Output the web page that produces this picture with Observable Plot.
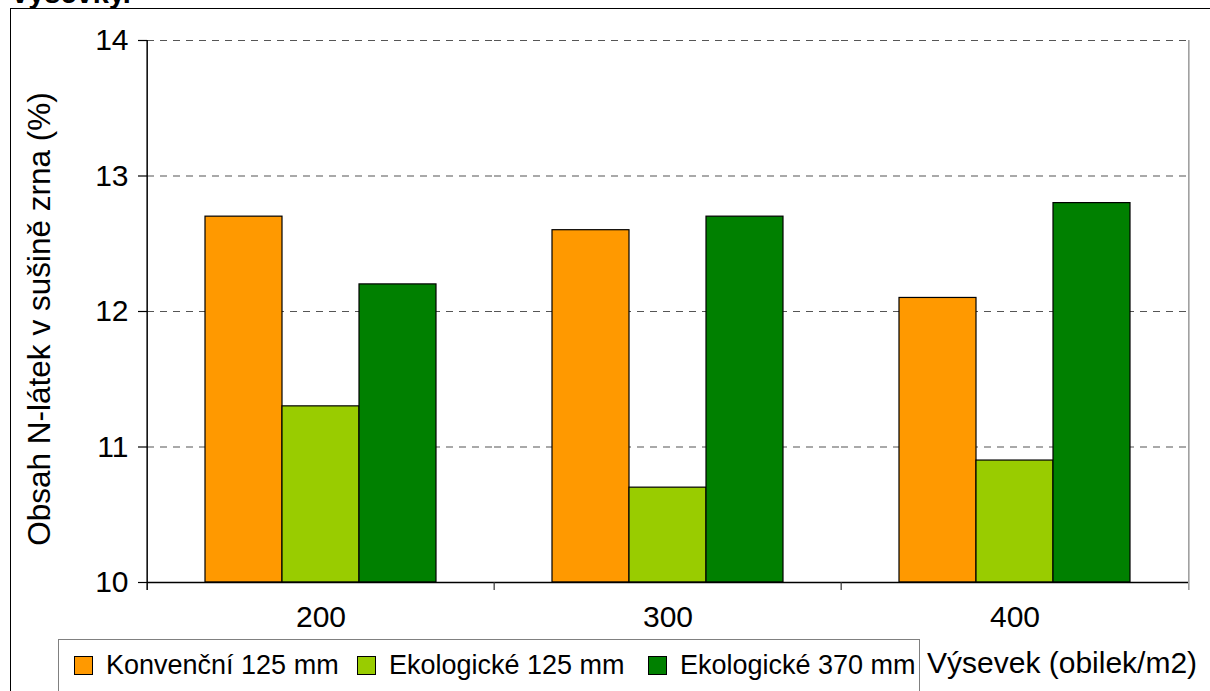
<!DOCTYPE html>
<html>
<head>
<meta charset="utf-8">
<script src="https://cdn.jsdelivr.net/npm/d3@7"></script>
<script src="https://cdn.jsdelivr.net/npm/@observablehq/plot@0.6"></script>
<style>
  body { margin: 0; background: #fff; }
  #wrap { position: relative; width: 1210px; height: 691px; overflow: hidden; background: #fff;
          font-family: "Liberation Sans", Arial, sans-serif; color: #000; }
  #frame { position: absolute; left: 10px; top: 8px; width: 1300px; height: 800px;
           border-left: 1.5px solid #000; border-top: 1.5px solid #000; }
  #head { position: absolute; left: 12px; top: -21px; font-size: 29px; font-weight: bold; line-height: 1; white-space: nowrap; }
  #chart { position: absolute; left: 0; top: 0; }
  #ytitle { position: absolute; left: 40px; top: 319px; transform: translate(-50%, -50%) rotate(-90deg);
            font-size: 31.5px; line-height: 1; white-space: nowrap; }
  #legend { position: absolute; left: 58px; top: 639px; width: 862px; height: 80px; box-sizing: border-box;
            border: 1px solid #808080; background: #fff; }
  .item { position: absolute; top: 14px; height: 22px; display: flex; align-items: center; font-size: 27px; white-space: nowrap; }
  .sw { width: 19px; height: 19px; box-sizing: border-box; border: 1px solid #000; margin-right: 13px; }
  #xtitle { position: absolute; left: 927px; top: 648px; font-size: 30px; line-height: 1; white-space: nowrap; }
</style>
</head>
<body>
<div id="wrap">
  <div id="frame"></div>
  <div id="head">výsevky.</div>
  <div id="chart"></div>
  <div id="ytitle"></div>
  <div id="legend"></div>
  <div id="xtitle"></div>
</div>
<script>
// Seeding rates (grains per m²) and row-spacing variants
const groups = ["200", "300", "400"];
const series = ["Konvenční 125 mm", "Ekologické 125 mm", "Ekologické 370 mm"];
// Crude protein content in grain dry matter (%)
const konvencni125 = [12.7, 12.6, 12.1];
const ekologicke125 = [11.3, 10.7, 10.9];
const ekologicke370 = [12.2, 12.7, 12.8];
const colors = ["#FF9900", "#99CC00", "#008000"];
const yTicks = [10, 11, 12, 13, 14];
const yTitle = "Obsah N-látek v sušině zrna (%)";
const xTitle = "Výsevek (obilek/m2)";

const seriesValues = [konvencni125, ekologicke125, ekologicke370];
const rows = groups.flatMap((g, gi) =>
  series.map((s, si) => ({group: g, series: s, value: seriesValues[si][gi]}))
);

const W = 1210, H = 691, ML = 146, MR = 21, MT = 40, MB = 109;
const facetStep = (W - ML - MR) / groups.length;

const chart = Plot.plot({
  width: W,
  height: H,
  marginLeft: ML,
  marginRight: MR,
  marginTop: MT,
  marginBottom: MB,
  style: {fontFamily: "'Liberation Sans', Arial, sans-serif", background: "transparent", color: "#000"},
  fx: {domain: groups, paddingInner: 0, paddingOuter: 0, label: null},
  x: {domain: series, paddingInner: 0, paddingOuter: 0.75, axis: null},
  y: {domain: [yTicks[0], yTicks[yTicks.length - 1]], axis: null},
  color: {domain: series, range: colors},
  marks: [
    // dashed horizontal gridlines
    Plot.gridY(yTicks.slice(1), {stroke: "#555", strokeOpacity: 1, strokeWidth: 1.2, strokeDasharray: "7,6"}),
    // bars
    Plot.barY(rows, {fx: "group", x: "series", y1: yTicks[0], y2: "value", fill: "series",
      stroke: "#000", strokeWidth: 1.2, inset: 0}),
    // baseline
    Plot.ruleY([yTicks[0]], {stroke: "#000", strokeWidth: 1.5}),
    // group separator ticks below the baseline
    Plot.ruleX(groups.slice(1), {fx: d => d, x: null, y1: yTicks[0], y2: yTicks[0],
      insetTop: 0, insetBottom: -8, dx: -facetStep / 2, stroke: "#333", strokeWidth: 1.2}),
    // left value axis line
    Plot.ruleX([groups[0]], {fx: d => d, x: null, y1: yTicks[yTicks.length - 1], y2: yTicks[0],
      insetTop: 0, insetBottom: -8, dx: -facetStep / 2, stroke: "#000", strokeWidth: 1.5}),
    // right border of the plot area
    Plot.ruleX([groups[groups.length - 1]], {fx: d => d, x: null, y1: yTicks[yTicks.length - 1], y2: yTicks[0],
      insetTop: 0, insetBottom: -8, dx: facetStep / 2, stroke: "#999", strokeWidth: 1.5}),
    // value axis
    Plot.axisY(yTicks, {tickSize: 9, tickPadding: 10, fontSize: 30, stroke: "#000", strokeWidth: 1.2,
      tickFormat: d => String(d), label: null}),
    // seeding-rate labels
    Plot.axisFx({anchor: "bottom", tickSize: 0, tickPadding: 23, fontSize: 30, label: null})
  ]
});
document.getElementById("chart").appendChild(chart);

document.getElementById("ytitle").textContent = yTitle;
document.getElementById("xtitle").textContent = xTitle;

// legend
const legend = document.getElementById("legend");
const itemLeft = [15, 298, 589];
series.forEach((s, i) => {
  const item = document.createElement("div");
  item.className = "item";
  item.style.left = itemLeft[i] + "px";
  const sw = document.createElement("div");
  sw.className = "sw";
  sw.style.background = colors[i];
  const label = document.createElement("span");
  label.textContent = s;
  item.appendChild(sw);
  item.appendChild(label);
  legend.appendChild(item);
});
</script>
</body>
</html>
